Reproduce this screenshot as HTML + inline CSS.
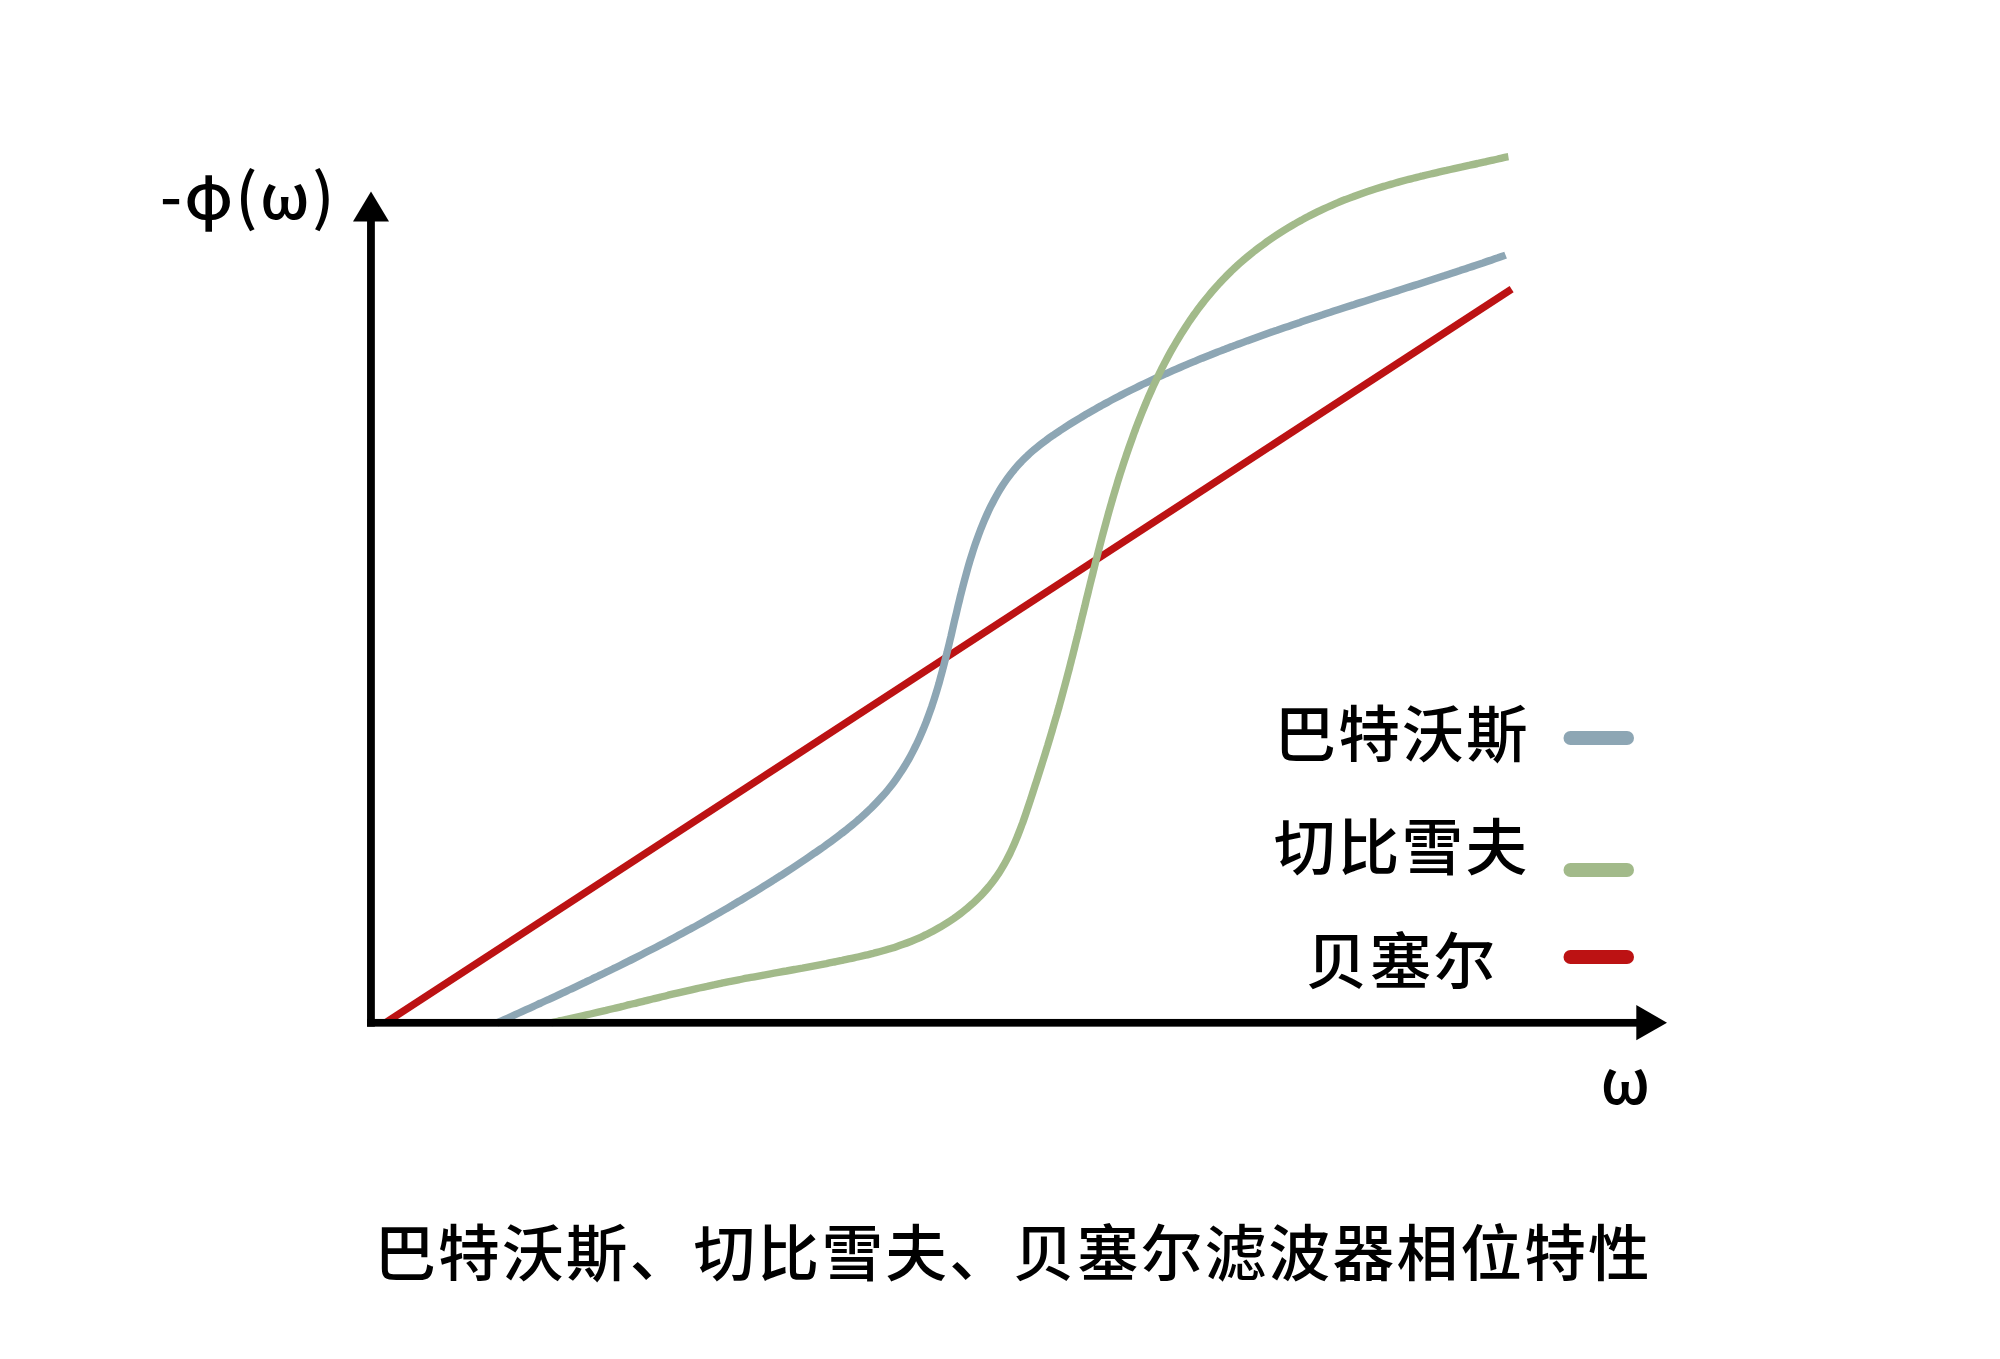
<!DOCTYPE html>
<html lang="zh-CN">
<head>
<meta charset="utf-8">
<title>巴特沃斯、切比雪夫、贝塞尔滤波器相位特性</title>
<style>
html,body{margin:0;padding:0;background:#fff;}
body{width:2000px;height:1359px;overflow:hidden;position:relative;font-family:"Liberation Sans","Noto Sans CJK SC",sans-serif;color:#000;}
svg{position:absolute;left:0;top:0;display:block;}
.t{font-family:"Liberation Sans","Noto Sans CJK SC",sans-serif;font-weight:500;fill:#000;font-size:61.7px;letter-spacing:2.2px;}
.g{font-family:"Noto Sans CJK SC","Liberation Sans",sans-serif;}
</style>
</head>
<body>
<svg width="2000" height="1359" viewBox="0 0 2000 1359">
<rect x="0" y="0" width="2000" height="1359" fill="#ffffff"/>
<!-- curves -->
<line x1="385.1" y1="1023" x2="1511.6" y2="289.05" stroke="#bc1213" stroke-width="7.4"/>
<path d="M496.8 1023.0C498.1 1022.4 501.7 1020.8 504.2 1019.7C506.7 1018.6 509.1 1017.5 511.6 1016.4C514.0 1015.3 516.5 1014.1 518.9 1013.0C521.4 1011.9 523.8 1010.8 526.2 1009.7C528.7 1008.6 531.1 1007.5 533.6 1006.4C536.0 1005.3 538.4 1004.1 540.9 1003.0C543.3 1001.9 545.7 1000.8 548.2 999.7C550.6 998.5 553.0 997.4 555.5 996.3C557.9 995.2 560.3 994.0 562.7 992.9C565.2 991.8 567.6 990.6 570.0 989.5C572.4 988.4 574.8 987.2 577.2 986.1C579.7 984.9 582.1 983.8 584.5 982.7C586.9 981.5 589.3 980.4 591.7 979.2C594.1 978.0 596.5 976.9 598.9 975.7C601.3 974.6 603.7 973.4 606.1 972.2C608.5 971.1 610.9 969.9 613.3 968.7C615.7 967.6 618.1 966.4 620.5 965.2C622.8 964.0 625.2 962.8 627.6 961.6C630.0 960.5 632.4 959.3 634.7 958.1C637.1 956.9 639.5 955.7 641.9 954.5C644.2 953.3 646.6 952.0 649.0 950.8C651.3 949.6 653.7 948.4 656.1 947.2C658.4 946.0 660.8 944.7 663.2 943.5C665.5 942.3 667.9 941.0 670.2 939.8C672.6 938.5 674.9 937.3 677.3 936.0C679.6 934.8 681.9 933.5 684.3 932.3C686.6 931.0 689.0 929.7 691.3 928.4C693.6 927.2 696.0 925.9 698.3 924.6C700.6 923.3 703.0 922.0 705.3 920.7C707.6 919.4 709.9 918.1 712.2 916.8C714.6 915.5 716.9 914.2 719.2 912.9C721.5 911.5 723.8 910.2 726.1 908.9C728.4 907.5 730.7 906.2 733.0 904.8C735.3 903.5 737.6 902.1 739.9 900.8C742.2 899.4 744.5 898.1 746.8 896.7C749.1 895.3 751.4 893.9 753.7 892.5C755.9 891.1 758.2 889.7 760.5 888.3C762.8 886.9 765.0 885.5 767.3 884.1C769.6 882.7 771.9 881.3 774.1 879.8C776.4 878.4 778.6 876.9 780.9 875.5C783.2 874.0 785.4 872.6 787.7 871.1C789.9 869.7 792.2 868.2 794.4 866.7C796.7 865.2 798.9 863.7 801.1 862.2C803.4 860.7 805.6 859.2 807.8 857.7C810.1 856.2 812.3 854.7 814.5 853.1C816.7 851.6 819.0 850.1 821.2 848.5C823.4 846.9 825.6 845.4 827.8 843.8C830.0 842.2 832.1 840.6 834.3 839.0C836.5 837.4 838.6 835.8 840.7 834.1C842.9 832.5 845.0 830.8 847.1 829.2C849.2 827.5 851.3 825.8 853.3 824.1C855.4 822.4 857.4 820.6 859.4 818.9C861.4 817.1 863.4 815.3 865.4 813.5C867.3 811.7 869.2 809.9 871.1 808.1C873.0 806.2 874.9 804.3 876.7 802.4C878.5 800.5 880.3 798.6 882.1 796.6C883.8 794.7 885.6 792.7 887.2 790.7C888.9 788.6 890.6 786.6 892.2 784.5C893.8 782.4 895.3 780.3 896.8 778.1C898.3 776.0 899.8 773.8 901.2 771.6C902.7 769.4 904.1 767.2 905.4 764.9C906.8 762.7 908.1 760.4 909.4 758.1C910.7 755.8 911.9 753.4 913.1 751.1C914.3 748.7 915.5 746.3 916.7 743.9C917.8 741.5 918.9 739.1 920.0 736.7C921.1 734.2 922.1 731.8 923.2 729.3C924.2 726.8 925.2 724.4 926.2 721.9C927.1 719.4 928.1 716.8 929.0 714.3C929.9 711.8 930.8 709.3 931.7 706.7C932.5 704.2 933.4 701.6 934.2 699.1C935.0 696.5 935.8 693.9 936.6 691.4C937.4 688.8 938.1 686.2 938.9 683.6C939.6 681.0 940.3 678.4 941.0 675.8C941.8 673.2 942.4 670.6 943.1 668.0C943.8 665.4 944.5 662.8 945.1 660.2C945.8 657.6 946.4 654.9 947.1 652.3C947.7 649.7 948.4 647.1 949.0 644.5C949.6 641.8 950.2 639.2 950.9 636.6C951.5 634.0 952.1 631.3 952.7 628.7C953.3 626.1 953.9 623.5 954.5 620.8C955.1 618.2 955.8 615.6 956.4 613.0C957.0 610.4 957.6 607.7 958.2 605.1C958.9 602.5 959.5 599.9 960.1 597.3C960.8 594.7 961.4 592.1 962.1 589.5C962.7 586.9 963.4 584.3 964.1 581.7C964.8 579.1 965.5 576.5 966.2 574.0C966.9 571.4 967.6 568.8 968.3 566.3C969.1 563.7 969.8 561.1 970.6 558.6C971.4 556.1 972.2 553.5 973.0 551.0C973.8 548.5 974.7 545.9 975.5 543.4C976.4 540.9 977.3 538.4 978.2 536.0C979.1 533.5 980.1 531.0 981.0 528.5C982.0 526.1 983.0 523.6 984.0 521.2C985.1 518.7 986.1 516.3 987.2 513.9C988.3 511.5 989.4 509.1 990.6 506.7C991.8 504.4 993.0 502.0 994.2 499.7C995.5 497.4 996.8 495.1 998.1 492.8C999.4 490.5 1000.8 488.3 1002.2 486.1C1003.6 483.9 1005.1 481.7 1006.6 479.5C1008.1 477.4 1009.7 475.3 1011.3 473.2C1012.9 471.2 1014.6 469.1 1016.3 467.2C1018.0 465.2 1019.8 463.2 1021.7 461.3C1023.5 459.4 1025.4 457.5 1027.4 455.7C1029.3 453.9 1031.3 452.1 1033.4 450.3C1035.4 448.5 1037.6 446.8 1039.7 445.1C1041.8 443.4 1044.0 441.8 1046.2 440.2C1048.4 438.5 1050.6 436.9 1052.9 435.4C1055.1 433.8 1057.4 432.3 1059.7 430.8C1061.9 429.2 1064.2 427.8 1066.5 426.3C1068.8 424.8 1071.1 423.4 1073.4 422.0C1075.7 420.6 1078.0 419.2 1080.3 417.8C1082.6 416.4 1084.9 415.1 1087.2 413.7C1089.5 412.4 1091.8 411.1 1094.1 409.8C1096.4 408.4 1098.7 407.1 1101.0 405.9C1103.3 404.6 1105.6 403.3 1108.0 402.1C1110.3 400.8 1112.7 399.5 1115.0 398.3C1117.4 397.1 1119.7 395.8 1122.1 394.6C1124.5 393.4 1126.8 392.2 1129.2 391.0C1131.6 389.8 1134.0 388.7 1136.4 387.5C1138.7 386.3 1141.1 385.2 1143.5 384.0C1145.9 382.9 1148.4 381.7 1150.8 380.6C1153.2 379.5 1155.6 378.3 1158.0 377.2C1160.4 376.1 1162.9 375.0 1165.3 373.9C1167.7 372.8 1170.2 371.8 1172.6 370.7C1175.1 369.6 1177.5 368.6 1180.0 367.5C1182.4 366.5 1184.9 365.4 1187.3 364.4C1189.8 363.3 1192.3 362.3 1194.7 361.3C1197.2 360.3 1199.7 359.3 1202.1 358.2C1204.6 357.2 1207.1 356.2 1209.6 355.3C1212.1 354.3 1214.5 353.3 1217.0 352.3C1219.5 351.3 1222.0 350.4 1224.5 349.4C1227.0 348.5 1229.5 347.5 1232.0 346.6C1234.5 345.6 1237.0 344.7 1239.5 343.7C1242.0 342.8 1244.5 341.9 1247.0 340.9C1249.5 340.0 1252.0 339.1 1254.5 338.2C1257.0 337.3 1259.5 336.4 1262.0 335.5C1264.6 334.6 1267.1 333.7 1269.6 332.8C1272.1 331.9 1274.6 331.0 1277.1 330.2C1279.7 329.3 1282.2 328.4 1284.7 327.5C1287.2 326.7 1289.8 325.8 1292.3 324.9C1294.8 324.1 1297.4 323.2 1299.9 322.4C1302.4 321.5 1305.0 320.7 1307.5 319.8C1310.0 319.0 1312.6 318.1 1315.1 317.3C1317.6 316.4 1320.2 315.6 1322.7 314.8C1325.3 313.9 1327.8 313.1 1330.4 312.3C1332.9 311.4 1335.4 310.6 1338.0 309.8C1340.5 309.0 1343.1 308.1 1345.6 307.3C1348.2 306.5 1350.7 305.7 1353.2 304.9C1355.8 304.0 1358.3 303.2 1360.9 302.4C1363.4 301.6 1366.0 300.8 1368.5 300.0C1371.1 299.2 1373.6 298.3 1376.2 297.5C1378.7 296.7 1381.3 295.9 1383.8 295.1C1386.4 294.3 1388.9 293.5 1391.5 292.7C1394.0 291.9 1396.6 291.1 1399.1 290.2C1401.6 289.4 1404.2 288.6 1406.7 287.8C1409.3 287.0 1411.8 286.2 1414.4 285.4C1416.9 284.6 1419.5 283.7 1422.0 282.9C1424.6 282.1 1427.1 281.3 1429.6 280.5C1432.2 279.7 1434.7 278.8 1437.3 278.0C1439.8 277.2 1442.4 276.4 1444.9 275.6C1447.4 274.7 1450.0 273.9 1452.5 273.1C1455.0 272.2 1457.6 271.4 1460.1 270.6C1462.7 269.7 1465.2 268.9 1467.7 268.0C1470.2 267.2 1472.8 266.4 1475.3 265.5C1477.8 264.7 1480.4 263.8 1482.9 263.0C1485.4 262.1 1487.9 261.2 1490.5 260.4C1493.0 259.5 1495.5 258.6 1498.0 257.8C1500.5 256.9 1504.3 255.6 1505.6 255.1" fill="none" stroke="#8da6b4" stroke-width="7.4"/>
<path d="M550.8 1022.7C552.1 1022.4 556.1 1021.6 558.8 1021.0C561.4 1020.5 564.1 1019.9 566.7 1019.3C569.4 1018.8 572.0 1018.2 574.6 1017.6C577.3 1017.0 579.9 1016.4 582.5 1015.8C585.1 1015.2 587.8 1014.6 590.4 1014.0C593.0 1013.4 595.6 1012.8 598.2 1012.2C600.8 1011.6 603.4 1011.0 606.0 1010.4C608.6 1009.7 611.2 1009.1 613.8 1008.5C616.4 1007.9 619.0 1007.2 621.6 1006.6C624.2 1006.0 626.8 1005.3 629.3 1004.7C631.9 1004.1 634.5 1003.4 637.1 1002.8C639.7 1002.2 642.3 1001.5 644.9 1000.9C647.4 1000.3 650.0 999.6 652.6 999.0C655.2 998.4 657.8 997.7 660.4 997.1C662.9 996.5 665.5 995.9 668.1 995.2C670.7 994.6 673.3 994.0 675.9 993.4C678.5 992.8 681.1 992.2 683.7 991.6C686.3 991.0 688.9 990.4 691.5 989.8C694.0 989.2 696.7 988.6 699.3 988.0C701.9 987.4 704.5 986.8 707.1 986.3C709.7 985.7 712.3 985.1 714.9 984.6C717.6 984.0 720.2 983.5 722.8 982.9C725.4 982.4 728.1 981.8 730.7 981.3C733.4 980.8 736.0 980.3 738.6 979.8C741.3 979.3 743.9 978.7 746.6 978.2C749.2 977.7 751.9 977.3 754.6 976.8C757.2 976.3 759.9 975.8 762.5 975.3C765.2 974.8 767.9 974.3 770.5 973.8C773.2 973.4 775.9 972.9 778.5 972.4C781.2 971.9 783.9 971.4 786.5 971.0C789.2 970.5 791.8 970.0 794.5 969.5C797.2 969.0 799.8 968.5 802.5 968.1C805.2 967.6 807.8 967.1 810.5 966.6C813.1 966.1 815.8 965.6 818.4 965.1C821.1 964.6 823.7 964.1 826.4 963.6C829.0 963.0 831.7 962.5 834.3 962.0C836.9 961.5 839.6 960.9 842.2 960.4C844.8 959.8 847.4 959.3 850.1 958.7C852.7 958.1 855.3 957.6 857.9 957.0C860.5 956.4 863.1 955.8 865.7 955.2C868.3 954.6 870.9 953.9 873.4 953.3C876.0 952.6 878.6 952.0 881.1 951.3C883.7 950.6 886.3 949.9 888.8 949.1C891.3 948.3 893.9 947.6 896.4 946.7C898.9 945.9 901.4 945.0 903.9 944.1C906.5 943.2 908.9 942.2 911.4 941.2C913.9 940.2 916.4 939.2 918.8 938.1C921.3 937.0 923.7 935.8 926.1 934.7C928.5 933.5 930.9 932.3 933.3 931.0C935.6 929.7 938.0 928.4 940.3 927.1C942.6 925.7 944.9 924.3 947.1 922.9C949.4 921.5 951.6 920.0 953.8 918.5C956.0 916.9 958.2 915.4 960.3 913.8C962.4 912.2 964.5 910.5 966.5 908.8C968.6 907.1 970.6 905.4 972.6 903.6C974.5 901.8 976.4 900.0 978.3 898.1C980.2 896.3 982.0 894.4 983.8 892.4C985.6 890.5 987.3 888.5 989.0 886.5C990.7 884.4 992.3 882.3 993.9 880.2C995.4 878.1 997.0 876.0 998.4 873.8C999.9 871.6 1001.3 869.3 1002.6 867.0C1004.0 864.8 1005.3 862.4 1006.5 860.1C1007.8 857.7 1009.0 855.4 1010.2 853.0C1011.3 850.5 1012.5 848.1 1013.6 845.6C1014.7 843.2 1015.7 840.7 1016.7 838.2C1017.8 835.7 1018.7 833.2 1019.7 830.6C1020.7 828.1 1021.6 825.5 1022.6 823.0C1023.5 820.4 1024.4 817.8 1025.3 815.3C1026.2 812.7 1027.0 810.1 1027.9 807.5C1028.8 804.9 1029.6 802.3 1030.5 799.7C1031.3 797.1 1032.2 794.5 1033.0 792.0C1033.9 789.4 1034.7 786.8 1035.5 784.2C1036.4 781.6 1037.2 779.0 1038.0 776.5C1038.9 773.9 1039.7 771.3 1040.5 768.7C1041.3 766.1 1042.1 763.6 1042.9 761.0C1043.7 758.4 1044.5 755.8 1045.3 753.3C1046.1 750.7 1046.9 748.1 1047.7 745.5C1048.4 743.0 1049.2 740.4 1050.0 737.8C1050.8 735.3 1051.5 732.7 1052.3 730.1C1053.0 727.5 1053.8 725.0 1054.5 722.4C1055.3 719.8 1056.0 717.3 1056.8 714.7C1057.5 712.1 1058.2 709.5 1059.0 707.0C1059.7 704.4 1060.4 701.8 1061.1 699.2C1061.8 696.7 1062.5 694.1 1063.2 691.5C1063.9 688.9 1064.6 686.4 1065.3 683.8C1066.0 681.2 1066.7 678.6 1067.3 676.1C1068.0 673.5 1068.7 670.9 1069.4 668.3C1070.0 665.7 1070.7 663.2 1071.3 660.6C1072.0 658.0 1072.7 655.4 1073.3 652.8C1074.0 650.2 1074.6 647.7 1075.2 645.1C1075.9 642.5 1076.5 639.9 1077.2 637.3C1077.8 634.7 1078.4 632.2 1079.1 629.6C1079.7 627.0 1080.3 624.4 1081.0 621.8C1081.6 619.2 1082.2 616.6 1082.9 614.1C1083.5 611.5 1084.1 608.9 1084.8 606.3C1085.4 603.7 1086.0 601.1 1086.6 598.5C1087.3 595.9 1087.9 593.4 1088.5 590.8C1089.2 588.2 1089.8 585.6 1090.4 583.0C1091.1 580.4 1091.7 577.8 1092.4 575.3C1093.0 572.7 1093.6 570.1 1094.3 567.5C1094.9 564.9 1095.6 562.3 1096.2 559.7C1096.9 557.2 1097.6 554.6 1098.2 552.0C1098.9 549.4 1099.5 546.8 1100.2 544.2C1100.9 541.7 1101.6 539.1 1102.2 536.5C1102.9 533.9 1103.6 531.3 1104.3 528.8C1105.0 526.2 1105.7 523.6 1106.4 521.0C1107.1 518.4 1107.8 515.9 1108.5 513.3C1109.2 510.7 1110.0 508.1 1110.7 505.6C1111.4 503.0 1112.2 500.4 1112.9 497.8C1113.7 495.3 1114.4 492.7 1115.2 490.1C1116.0 487.6 1116.8 485.0 1117.5 482.4C1118.3 479.9 1119.1 477.3 1119.9 474.7C1120.7 472.2 1121.6 469.6 1122.4 467.0C1123.2 464.5 1124.1 461.9 1124.9 459.4C1125.8 456.8 1126.6 454.2 1127.5 451.7C1128.4 449.1 1129.3 446.6 1130.2 444.0C1131.1 441.5 1132.0 438.9 1132.9 436.4C1133.8 433.8 1134.8 431.3 1135.7 428.7C1136.7 426.2 1137.6 423.7 1138.6 421.1C1139.6 418.6 1140.6 416.1 1141.6 413.5C1142.6 411.0 1143.6 408.5 1144.7 406.0C1145.7 403.5 1146.8 401.0 1147.8 398.5C1148.9 396.0 1150.0 393.5 1151.1 391.1C1152.2 388.6 1153.3 386.1 1154.5 383.7C1155.6 381.2 1156.8 378.8 1158.0 376.3C1159.1 373.9 1160.3 371.5 1161.5 369.1C1162.8 366.7 1164.0 364.3 1165.2 361.9C1166.5 359.5 1167.8 357.1 1169.0 354.8C1170.3 352.4 1171.6 350.1 1173.0 347.7C1174.3 345.4 1175.7 343.1 1177.0 340.8C1178.4 338.5 1179.8 336.2 1181.2 333.9C1182.6 331.6 1184.1 329.4 1185.5 327.2C1187.0 324.9 1188.4 322.7 1189.9 320.5C1191.5 318.3 1193.0 316.1 1194.5 314.0C1196.1 311.8 1197.6 309.7 1199.2 307.6C1200.8 305.4 1202.5 303.3 1204.1 301.3C1205.8 299.2 1207.4 297.1 1209.1 295.1C1210.8 293.0 1212.5 291.0 1214.3 289.0C1216.0 287.1 1217.8 285.1 1219.6 283.1C1221.4 281.2 1223.2 279.3 1225.1 277.4C1226.9 275.5 1228.8 273.6 1230.7 271.8C1232.6 270.0 1234.5 268.1 1236.5 266.3C1238.4 264.5 1240.4 262.8 1242.4 261.0C1244.4 259.3 1246.5 257.6 1248.5 255.9C1250.5 254.2 1252.6 252.5 1254.7 250.9C1256.8 249.2 1258.9 247.6 1261.1 246.0C1263.2 244.4 1265.4 242.9 1267.5 241.3C1269.7 239.8 1271.9 238.3 1274.1 236.8C1276.3 235.3 1278.6 233.8 1280.8 232.4C1283.1 230.9 1285.3 229.5 1287.6 228.1C1289.9 226.7 1292.2 225.3 1294.6 224.0C1296.9 222.7 1299.2 221.3 1301.6 220.1C1303.9 218.8 1306.3 217.5 1308.7 216.3C1311.1 215.0 1313.5 213.8 1315.9 212.6C1318.3 211.4 1320.7 210.3 1323.2 209.1C1325.6 208.0 1328.0 206.9 1330.5 205.8C1333.0 204.7 1335.4 203.6 1337.9 202.6C1340.4 201.5 1342.9 200.5 1345.4 199.6C1347.9 198.6 1350.5 197.6 1353.0 196.7C1355.5 195.7 1358.0 194.8 1360.6 193.9C1363.1 193.0 1365.7 192.1 1368.3 191.3C1370.8 190.4 1373.4 189.6 1376.0 188.8C1378.5 188.0 1381.1 187.2 1383.7 186.4C1386.3 185.6 1388.9 184.9 1391.5 184.1C1394.1 183.4 1396.7 182.6 1399.3 181.9C1401.9 181.2 1404.5 180.5 1407.1 179.8C1409.7 179.1 1412.3 178.5 1414.9 177.8C1417.6 177.2 1420.2 176.5 1422.8 175.9C1425.4 175.2 1428.0 174.6 1430.7 174.0C1433.3 173.4 1435.9 172.7 1438.5 172.1C1441.1 171.5 1443.8 170.9 1446.4 170.4C1449.0 169.8 1451.6 169.2 1454.2 168.6C1456.8 168.0 1459.4 167.4 1462.1 166.9C1464.7 166.3 1467.3 165.7 1469.9 165.2C1472.5 164.6 1475.1 164.0 1477.6 163.5C1480.2 162.9 1482.8 162.4 1485.4 161.8C1488.0 161.2 1490.5 160.7 1493.1 160.1C1495.7 159.5 1498.2 159.0 1500.8 158.4C1503.3 157.8 1507.1 156.9 1508.4 156.7" fill="none" stroke="#a2ba8a" stroke-width="7.4"/>
<!-- axes -->
<rect x="367.05" y="221" width="7.8" height="805.65" fill="#000"/>
<rect x="367.05" y="1018.95" width="1270" height="7.7" fill="#000"/>
<polygon points="371,191.5 353,221.5 389,221.5" fill="#000"/>
<polygon points="1667,1022.7 1636.3,1005 1636.3,1040.3" fill="#000"/>
<!-- legend -->
<line x1="1570.5" y1="738" x2="1627" y2="738" stroke="#8da6b4" stroke-width="14" stroke-linecap="round"/>
<line x1="1570.5" y1="870" x2="1627" y2="870" stroke="#a2ba8a" stroke-width="14" stroke-linecap="round"/>
<line x1="1570.5" y1="957" x2="1627" y2="957" stroke="#bc1213" stroke-width="14" stroke-linecap="round"/>
<text class="t" x="1274.3" y="756.7">巴特沃斯</text>
<text class="t" x="1273.8" y="870.3">切比雪夫</text>
<text class="t" x="1305.8" y="983.5">贝塞尔</text>
<!-- labels -->
<text class="t g" x="160.1" y="219.1" style="letter-spacing:2.5px">-φ(ω)</text>
<text class="t g" x="1600.6" y="1104.2">ω</text>
<text class="t" x="374.2" y="1275.6">巴特沃斯、切比雪夫、贝塞尔滤波器相位特性</text>
</svg>
</body>
</html>
